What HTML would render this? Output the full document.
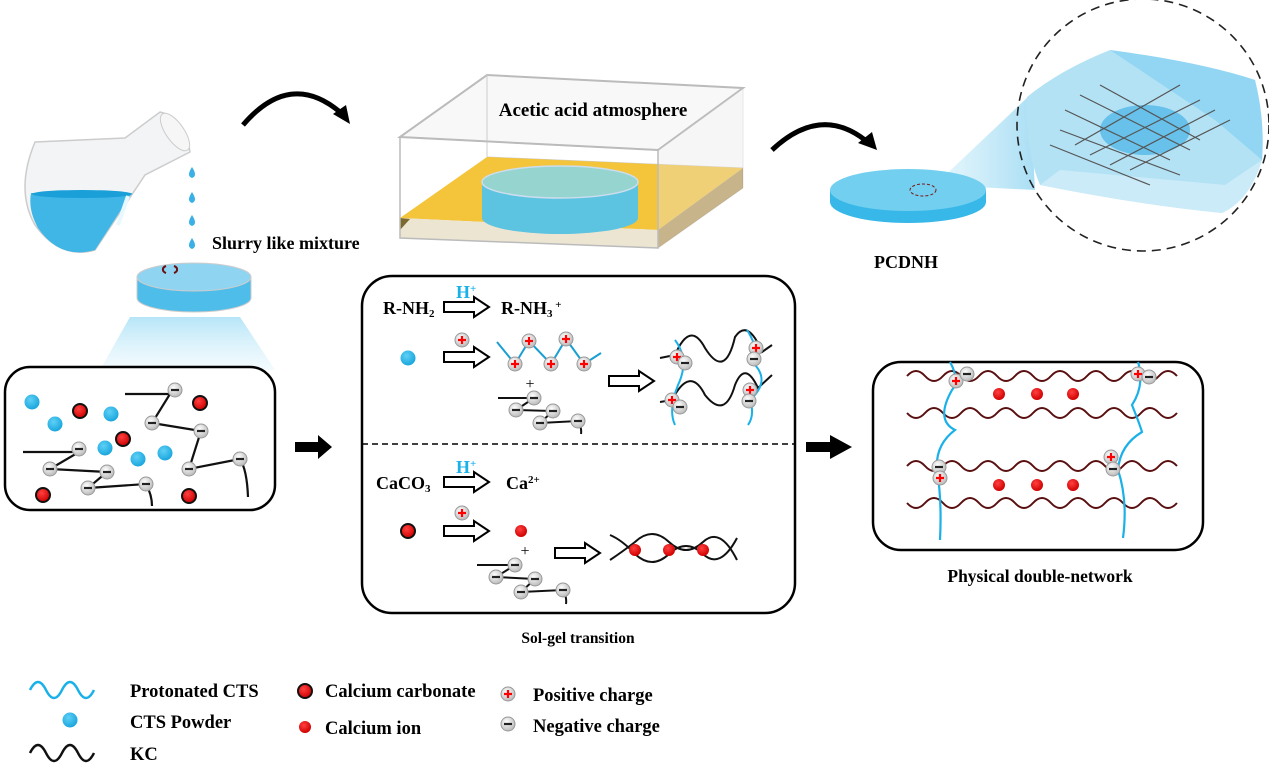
<!DOCTYPE html>
<html><head><meta charset="utf-8"><style>
html,body{margin:0;padding:0;background:#fff;}
svg{display:block;font-family:"Liberation Serif",serif;font-weight:bold;}
</style></head><body>
<svg width="1269" height="776" viewBox="0 0 1269 776" xmlns="http://www.w3.org/2000/svg">
<defs>
<radialGradient id="gp" cx="40%" cy="35%" r="65%"><stop offset="0" stop-color="#fff"/><stop offset="1" stop-color="#bbb"/></radialGradient>
<radialGradient id="gb" cx="40%" cy="35%" r="65%"><stop offset="0" stop-color="#5fd0f5"/><stop offset="1" stop-color="#1aa6de"/></radialGradient>
<radialGradient id="gr" cx="40%" cy="35%" r="65%"><stop offset="0" stop-color="#ff4040"/><stop offset="1" stop-color="#d00000"/></radialGradient>
<linearGradient id="cone" x1="0" y1="0" x2="0" y2="1"><stop offset="0" stop-color="#aee2f7" stop-opacity=".9"/><stop offset="1" stop-color="#d8f1fb" stop-opacity=".3"/></linearGradient>
<linearGradient id="beam" x1="0" y1="0" x2="1" y2="0"><stop offset="0" stop-color="#cdeefa" stop-opacity=".5"/><stop offset="1" stop-color="#9fdaf3" stop-opacity=".9"/></linearGradient>
<g id="pc"><circle r="7" fill="url(#gp)" stroke="#999" stroke-width="1"/><path d="M-4,0H4M0,-4V4" stroke="#f00" stroke-width="2.2"/></g>
<g id="nc"><circle r="7" fill="url(#gp)" stroke="#999" stroke-width="1"/><path d="M-4,0H4" stroke="#222" stroke-width="2.2"/></g>
<g id="ha"><path d="M0,-5H30V-10L45,0L30,10V5H0Z" fill="#fff" stroke="#000" stroke-width="2"/></g>
<g id="rd"><circle r="6" fill="url(#gr)"/></g>
<g id="rdk"><circle r="7" fill="url(#gr)" stroke="#111" stroke-width="2"/></g>
<g id="bd"><circle r="7.5" fill="url(#gb)"/></g>
</defs>

<!-- flask -->
<path d="M35,142 L125,138 L160,112 Q185,118 190,152 L145,175 L95,250 Q60,260 35,225 Q15,190 35,142 Z" fill="#f2f4f5" stroke="#ccc" stroke-width="1.5"/>
<path d="M31,193 L132,193 L95,250 Q60,260 38,228 Q28,210 31,193Z" fill="#3fb6e6"/>
<ellipse cx="82" cy="194" rx="50" ry="4" fill="#1a9fd8"/>
<path d="M118,225 L128,196" stroke="#e8f8ff" stroke-width="4"/>
<ellipse cx="175" cy="132" rx="9" ry="22" transform="rotate(-35 175 132)" fill="#f6f6f6" stroke="#ccc"/>
<g fill="#3ab0e6">
<path d="M192,167 q-6,9 0,11 q6,-2 0,-11z"/><path d="M192,192 q-6,9 0,11 q6,-2 0,-11z"/><path d="M192,215 q-6,9 0,11 q6,-2 0,-11z"/><path d="M192,238 q-6,9 0,11 q6,-2 0,-11z"/>
</g>
<text x="212" y="249" font-size="18">Slurry like mixture</text>
<!-- petri -->
<path d="M130,317 L240,317 L275,370 L100,370 Z" fill="url(#cone)"/>
<path d="M137,277 V298 A57,14 0 0 0 251,298 V277Z" fill="#4fbde9" stroke="#ccc"/>
<ellipse cx="194" cy="277" rx="57" ry="14" fill="#8fd5f2" stroke="#ccc"/>
<path d="M166,273 a6,4 0 0 1 0,-7 M174,266 a6,4 0 0 1 0,7" fill="none" stroke="#6a0f0f" stroke-width="2"/>
<!-- curved arrows -->
<path d="M243,125 Q290,70 340,112" fill="none" stroke="#000" stroke-width="5"/>
<path d="M333,114 L350,124 L346,105 Z" fill="#000"/>
<path d="M772,150 Q820,105 865,140" fill="none" stroke="#000" stroke-width="5"/>
<path d="M858,143 L877,150 L872,132 Z" fill="#000"/>

<!-- acetic box -->
<path d="M400,137 L487,75 L743,88 L658,150 Z" fill="#f8f8f8" stroke="#bbb" stroke-width="2"/>
<path d="M487,75 V157 M487,157 L743,168" stroke="#ccc" fill="none"/>
<path d="M400,218 L487,157 L743,168 L658,230 Z" fill="#f4c43a"/>
<path d="M658,230 L743,168 L743,188 L658,248 Z" fill="#b8985a"/>
<path d="M400,218 L658,230 L658,248 L400,238 Z" fill="#ece5d2"/>
<path d="M400,218 L410,219 L400,230Z" fill="#7a6a30"/>
<path d="M658,150 L743,88 L743,188 L658,248 Z" fill="#e8e8e8" opacity=".35" stroke="#bbb"/>
<path d="M400,137 L658,150 L658,248 L400,238 Z" fill="none" stroke="#bbb" stroke-width="1.5"/>
<path d="M482,182 V218 A78,16 0 0 0 638,218 V182Z" fill="#5cc3e0"/>
<ellipse cx="560" cy="182" rx="78" ry="16" fill="#96d4d0" stroke="#cde" stroke-width="1.5"/>
<text x="593" y="116" font-size="19" text-anchor="middle">Acetic acid atmosphere</text>

<!-- PCDNH disc -->
<path d="M935,185 L1030,95 L1035,190 Z" fill="url(#beam)"/>
<path d="M830,190 V202 A78,21 0 0 0 986,202 V190Z" fill="#38b8e8"/>
<ellipse cx="908" cy="190" rx="78" ry="21" fill="#72cff0"/>
<ellipse cx="923" cy="190" rx="13" ry="6" fill="none" stroke="#7a1a1a" stroke-dasharray="3,2"/>
<text x="906" y="268" font-size="18" text-anchor="middle">PCDNH</text>
<circle cx="1143" cy="125" r="126" fill="none" stroke="#222" stroke-width="1.6" stroke-dasharray="9,6"/>
<path d="M1027,97 Q1060,70 1110,50 Q1200,62 1255,80 Q1265,120 1262,160 Q1250,200 1222,213 Q1140,205 1040,185 Q1025,150 1027,97 Z" fill="#b4e2f5"/>
<path d="M1110,50 Q1200,62 1255,80 Q1265,120 1262,160 L1215,120 Z" fill="#8ad3f2" opacity=".8"/>
<path d="M1040,185 Q1140,205 1222,213 Q1250,200 1262,160 L1225,185 L1060,170Z" fill="#d6f0fa" opacity=".7"/>
<ellipse cx="1145" cy="130" rx="45" ry="25" fill="#1aa0e0" opacity=".5"/>
<g stroke="#555" stroke-width="1.2" fill="none">
<path d="M1065,110 L1170,160 M1060,130 L1180,175 M1050,145 L1150,185 M1080,95 L1190,150 M1100,85 L1200,140"/>
<path d="M1090,155 L1200,100 M1110,165 L1215,110 M1130,170 L1230,120 M1075,145 L1180,85"/>
</g>

<!-- left box -->
<rect x="5" y="367" width="270" height="143" rx="25" fill="#fff" stroke="#000" stroke-width="2.5"/>
<g fill="none" stroke="#111" stroke-width="2.2">
<path d="M125,394 H170 L152,423 L201,431 L189,469 L240,459 Q247,470 248,497"/>
<path d="M23,452 H79 L50,469 L107,472 L88,488 L146,484 Q152,495 152,506"/>
</g>
<use href="#bd" x="32" y="402"/><use href="#bd" x="55" y="424"/><use href="#bd" x="111" y="414"/><use href="#bd" x="105" y="448"/><use href="#bd" x="138" y="459"/><use href="#bd" x="165" y="453"/>
<use href="#rdk" x="80" y="411"/><use href="#rdk" x="200" y="403"/><use href="#rdk" x="123" y="439"/><use href="#rdk" x="43" y="495"/><use href="#rdk" x="189" y="496"/>
<use href="#nc" x="175" y="390"/><use href="#nc" x="152" y="423"/><use href="#nc" x="201" y="431"/><use href="#nc" x="79" y="449"/><use href="#nc" x="50" y="469"/><use href="#nc" x="107" y="472"/><use href="#nc" x="88" y="488"/><use href="#nc" x="146" y="484"/><use href="#nc" x="189" y="469"/><use href="#nc" x="240" y="459"/>

<!-- big arrows -->
<path d="M295,442 H318 V435 L332,447 L318,459 V452 H295Z" fill="#000"/>
<path d="M806,442 H830 V435 L852,447 L830,459 V452 H806Z" fill="#000"/>

<!-- middle box -->
<rect x="362" y="276" width="433" height="337" rx="30" fill="#fff" stroke="#000" stroke-width="2.5"/>
<line x1="362" y1="444" x2="795" y2="444" stroke="#000" stroke-width="1.5" stroke-dasharray="6,4"/>
<text x="383" y="314" font-size="18">R-NH<tspan font-size="11" dy="3">2</tspan></text>
<use href="#ha" x="444" y="307"/>
<text x="456" y="298" font-size="18" fill="#1ab0e8">H<tspan font-size="11" dy="-6">+</tspan></text>
<text x="501" y="314" font-size="18">R-NH<tspan font-size="11" dy="3">3</tspan><tspan font-size="11" dy="-9"> +</tspan></text>
<use href="#bd" x="408" y="358"/>
<use href="#pc" x="462" y="340"/>
<use href="#ha" x="444" y="357"/>
<path d="M497,342 L515,364 L529,341 L551,364 L566,339 L584,364 L601,353" fill="none" stroke="#1a9fd0" stroke-width="2"/>
<use href="#pc" x="529" y="341"/><use href="#pc" x="566" y="339"/><use href="#pc" x="515" y="364"/><use href="#pc" x="551" y="364"/><use href="#pc" x="584" y="364"/>
<text x="530" y="389" font-size="16" font-weight="normal" text-anchor="middle">+</text>
<path d="M498,398 H534 L516,410 L553,411 L540,423 L578,421 Q582,428 581,434" fill="none" stroke="#111" stroke-width="2"/>
<use href="#nc" x="534" y="398"/><use href="#nc" x="516" y="410"/><use href="#nc" x="553" y="411"/><use href="#nc" x="540" y="423"/><use href="#nc" x="578" y="421"/>
<use href="#ha" x="609" y="381"/>
<g fill="none" stroke-width="2">
<path d="M660,358 L675,355 Q690,320 705,348 Q725,380 735,337 Q748,318 762,352 L772,345" stroke="#111"/>
<path d="M660,402 L672,400 Q690,365 705,395 Q725,420 735,385 Q745,360 758,388 L772,375" stroke="#111"/>
<path d="M675,340 Q690,360 678,385 Q668,410 675,425" stroke="#1ab0e8"/>
<path d="M747,330 Q760,350 752,362 Q772,380 750,400 Q755,415 748,425" stroke="#1ab0e8"/>
</g>
<use href="#pc" x="677" y="357"/><use href="#nc" x="685" y="363"/><use href="#pc" x="756" y="348"/><use href="#nc" x="754" y="359"/>
<use href="#pc" x="672" y="400"/><use href="#nc" x="680" y="407"/><use href="#pc" x="750" y="390"/><use href="#nc" x="749" y="401"/>

<text x="376" y="489" font-size="18">CaCO<tspan font-size="11" dy="3">3</tspan></text>
<use href="#ha" x="444" y="482"/>
<text x="456" y="473" font-size="18" fill="#1ab0e8">H<tspan font-size="11" dy="-6">+</tspan></text>
<text x="506" y="489" font-size="18">Ca<tspan font-size="11" dy="-6">2+</tspan></text>
<use href="#rdk" x="408" y="531"/>
<use href="#pc" x="462" y="513"/>
<use href="#ha" x="444" y="531"/>
<use href="#rd" x="521" y="531"/>
<text x="525" y="556" font-size="16" font-weight="normal" text-anchor="middle">+</text>
<path d="M477,565 H515 L496,577 L535,579 L521,592 L563,590 Q567,597 566,604" fill="none" stroke="#111" stroke-width="2"/>
<use href="#nc" x="515" y="565"/><use href="#nc" x="496" y="577"/><use href="#nc" x="535" y="579"/><use href="#nc" x="521" y="592"/><use href="#nc" x="563" y="590"/>
<use href="#ha" x="555" y="553"/>
<path d="M610,535 Q622,540 635,554 Q652,570 669,554 Q686,538 703,554 Q720,570 737,538" fill="none" stroke="#111" stroke-width="2"/>
<path d="M610,560 Q622,552 635,542 Q652,526 669,542 Q686,558 703,542 Q720,526 737,560" fill="none" stroke="#111" stroke-width="2"/>
<use href="#rd" x="635" y="550"/><use href="#rd" x="669" y="550"/><use href="#rd" x="703" y="550"/>
<text x="578" y="643" font-size="15.5" text-anchor="middle">Sol-gel transition</text>

<!-- right box -->
<rect x="873" y="362" width="330" height="188" rx="28" fill="#fff" stroke="#000" stroke-width="2.5"/>
<g fill="none" stroke="#5a1010" stroke-width="2">
<path d="M907,376 q9,-10 18,0 t18,0 t18,0 t18,0 t18,0 t18,0 t18,0 t18,0 t18,0 t18,0 t18,0 t18,0 t18,0 t18,0 t18,0"/>
<path d="M907,413 q9,10 18,0 t18,0 t18,0 t18,0 t18,0 t18,0 t18,0 t18,0 t18,0 t18,0 t18,0 t18,0 t18,0 t18,0 t18,0"/>
<path d="M907,466 q9,-10 18,0 t18,0 t18,0 t18,0 t18,0 t18,0 t18,0 t18,0 t18,0 t18,0 t18,0 t18,0 t18,0 t18,0 t18,0"/>
<path d="M907,503 q9,10 18,0 t18,0 t18,0 t18,0 t18,0 t18,0 t18,0 t18,0 t18,0 t18,0 t18,0 t18,0 t18,0 t18,0 t18,0"/>
</g>
<g fill="none" stroke="#1ab0e8" stroke-width="2.2">
<path d="M950,362 Q960,380 952,390 Q935,420 955,430 Q935,445 937,470 Q942,500 940,540"/>
<path d="M1138,362 Q1145,385 1132,405 Q1140,425 1142,432 Q1120,445 1118,470 Q1128,500 1123,538"/>
</g>
<use href="#rd" x="999" y="394"/><use href="#rd" x="1037" y="394"/><use href="#rd" x="1073" y="394"/>
<use href="#rd" x="999" y="485"/><use href="#rd" x="1037" y="485"/><use href="#rd" x="1073" y="485"/>
<use href="#pc" x="956" y="381"/><use href="#nc" x="967" y="374"/><use href="#pc" x="1138" y="374"/><use href="#nc" x="1149" y="377"/>
<use href="#nc" x="939" y="467"/><use href="#pc" x="940" y="478"/><use href="#pc" x="1111" y="457"/><use href="#nc" x="1113" y="469"/>
<text x="1040" y="582" font-size="17.5" text-anchor="middle">Physical double-network</text>

<!-- legend -->
<path d="M30,690 q8,-16 16,0 t16,0 t16,0 t16,0" fill="none" stroke="#1ab0e8" stroke-width="2.5"/>
<text x="130" y="697" font-size="18.5">Protonated CTS</text>
<use href="#bd" x="70" y="720"/>
<text x="130" y="728" font-size="18.5">CTS Powder</text>
<path d="M30,753 q8,-16 16,0 t16,0 t16,0 t16,0" fill="none" stroke="#111" stroke-width="2.5"/>
<text x="130" y="760" font-size="18.5">KC</text>
<use href="#rdk" x="305" y="691"/>
<text x="325" y="697" font-size="18.5">Calcium carbonate</text>
<use href="#rd" x="305" y="727"/>
<text x="325" y="734" font-size="18.5">Calcium ion</text>
<use href="#pc" x="508" y="694"/>
<text x="533" y="701" font-size="18.5">Positive charge</text>
<use href="#nc" x="508" y="724"/>
<text x="533" y="732" font-size="18.5">Negative charge</text>
</svg>
</body></html>
